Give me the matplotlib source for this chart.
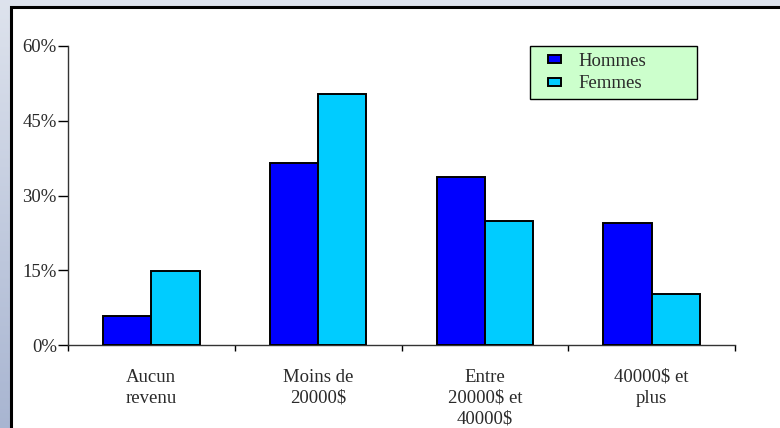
import numpy as np
import matplotlib
matplotlib.use("Agg")
import matplotlib.pyplot as plt
from matplotlib.patches import Rectangle
from matplotlib.container import BarContainer
from matplotlib.legend_handler import HandlerPatch, update_from_first_child

categories = ["Aucun\nrevenu", "Moins de\n20000$", "Entre\n20000$ et\n40000$", "40000$ et\nplus"]
hommes = [5.8, 36.5, 33.7, 24.5]
femmes = [14.8, 50.4, 24.9, 10.2]
yticks = [0, 15, 30, 45, 60]
ytick_labels = ["0%", "15%", "30%", "45%", "60%"]

plt.rcParams['font.family'] = ['Liberation Serif', 'DejaVu Serif']
fs = 13.5

fig = plt.figure(figsize=(7.8, 4.28), dpi=100)

# bluish gradient background behind the white panel
bg = fig.add_axes([0, 0, 1, 1], zorder=-10)
grad = np.linspace(0, 1, 256).reshape(-1, 1)
top = np.array([0.87, 0.89, 0.93])
bot = np.array([0.66, 0.71, 0.82])
img = top[None, None, :] * (1 - grad[:, :, None]) + bot[None, None, :] * grad[:, :, None]
bg.imshow(img, aspect='auto', extent=[0, 1, 0, 1])
bg.set_xlim(0, 1)
bg.set_ylim(0, 1)
bg.axis('off')
bg.add_patch(Rectangle((11 / 780, -0.1), 1.2, 1 - 7 / 428 + 0.1,
                       facecolor='white', edgecolor='black', linewidth=2.2))

ax = fig.add_axes([68 / 780, 1 - 345 / 428, (735 - 68) / 780, (345 - 46) / 428])
ax.patch.set_alpha(0)

x = np.arange(len(categories))
w = 0.29
ax.bar(x - w / 2, hommes, w, color='#0000ff', edgecolor='black', linewidth=1.4, label='Hommes', zorder=3)
ax.bar(x + w / 2, femmes, w, color='#00ccff', edgecolor='black', linewidth=1.4, label='Femmes', zorder=3)

ax.set_xlim(-0.5, len(categories) - 0.5)
ax.set_ylim(0, 60)
ax.set_yticks(yticks)
ax.set_yticklabels(ytick_labels, fontsize=fs, color='#2a2a2a')
ax.tick_params(axis='y', direction='out', length=7, width=1, pad=1)

ax.set_xticks(np.arange(len(categories) + 1) - 0.5)
ax.set_xticklabels([])
ax.tick_params(axis='x', which='major', direction='out', length=4.5, width=1)
ax.set_xticks(x, minor=True)
ax.set_xticklabels(categories, minor=True, fontsize=fs, color='#2a2a2a', linespacing=1.3)
ax.tick_params(axis='x', which='minor', length=0, pad=17)

for s in ['top', 'right']:
    ax.spines[s].set_visible(False)
for s in ['left', 'bottom']:
    ax.spines[s].set_color('#333333')
    ax.spines[s].set_linewidth(1)


# small legend swatch placed at the right end of the handle box
def small_box(legend, orig_handle, xdescent, ydescent, width, height, fontsize):
    bw = 0.69 * fontsize
    bh = 0.43 * fontsize
    return Rectangle((-xdescent + width - bw, -ydescent + (height - bh) / 2), bw, bh)


lx0 = (530 - 68) / 667
lw = (697 - 530) / 667
lh = (99 - 46) / 299
leg = ax.legend(loc='upper left', bbox_to_anchor=(lx0, 1.0 - lh, lw, lh), mode='expand',
                fontsize=fs, frameon=True, fancybox=False, facecolor='#ccffcc', edgecolor='black',
                framealpha=1, handlelength=1.3, handletextpad=0.96,
                borderpad=0.35, labelspacing=0.3, borderaxespad=0,
                handler_map={BarContainer: HandlerPatch(patch_func=small_box,
                                                        update_func=update_from_first_child)})
leg.get_frame().set_linewidth(1)
for t in leg.get_texts():
    t.set_color('#2a2a2a')

fig.savefig('out.png', dpi=100)
